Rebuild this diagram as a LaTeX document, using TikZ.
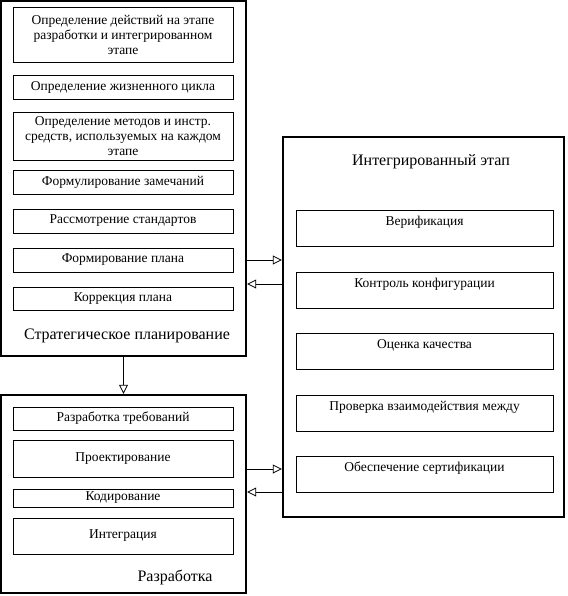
\documentclass[tikz,border=0pt]{standalone}
\usepackage{fontspec}
\setmainfont{Liberation Serif}
\usetikzlibrary{arrows.meta, positioning}
\tikzstyle{frame} = [rectangle, draw=black, line width=2.4pt]
\tikzstyle{task} = [rectangle, draw=black, line width=0.8pt, minimum width=220pt,
    inner sep=1.5pt, align=center, font=\fontsize{13.5}{15}\selectfont]
\tikzstyle{check} = [rectangle, draw=black, line width=0.8pt, minimum width=257pt,
    inner xsep=2pt, inner ysep=2pt, text height=13pt, text depth=19pt,
    font=\fontsize{13.5}{15}\selectfont]
\tikzstyle{title} = [font=\fontsize{16}{19}\selectfont]
\tikzstyle{arrow} = [line width=0.8pt,->,>={Triangle[open,length=9pt,width=9pt]}]

\begin{document}
\begin{tikzpicture}[x=1pt, y=-1pt]
\useasboundingbox (0,0) rectangle (567,596);

% Frames
\node (strat) [frame, minimum width=245pt, minimum height=355pt] at (123.5,178.5) {};
\node (dev) [frame, minimum width=245pt, minimum height=198pt] at (123.5,494) {};
\node (integ) [frame, minimum width=281pt, minimum height=380pt] at (423.5,327) {};

% Strategic planning
\node (plan1) [task, minimum height=55pt] at (123,34.5) {Определение действий на этапе\\ разработки и интегрированном\\ этапе};
\node (plan2) [task, minimum height=24pt] at (123,87) {Определение жизненного цикла};
\node (plan3) [task, minimum height=48pt] at (123,136) {Определение методов и инстр.\\ средств, используемых на каждом\\ этапе};
\node (plan4) [task, minimum height=24pt] at (123,182) {Формулирование замечаний};
\node (plan5) [task, minimum height=24pt] at (123,221) {Рассмотрение стандартов};
\node (plan6) [task, minimum height=24pt] at (123,260) {Формирование плана};
\node (plan7) [task, minimum height=23pt] at (123,298.5) {Коррекция плана};
\node (stratlbl) [title] at (127,336) {Стратегическое планирование};

% Development
\node (dev1) [task, minimum height=23pt] at (123,418.5) {Разработка требований};
\node (dev2) [task, minimum height=37pt] at (123,458.5) {Проектирование};
\node (dev3) [task, minimum height=18pt] at (123,498) {Кодирование};
\node (dev4) [task, minimum height=36pt] at (123,536) {Интеграция};
\node (devlbl) [title] at (175,577) {Разработка};

% Integrated stage
\node (integlbl) [title] at (431,162) {Интегрированный этап};
\node (int1) [check] at (424.5,228) {Верификация};
\node (int2) [check] at (424.5,290.5) {Контроль конфигурации};
\node (int3) [check] at (424.5,351.5) {Оценка качества};
\node (int4) [check] at (424.5,413) {Проверка взаимодействия между};
\node (int5) [check] at (424.5,474) {Обеспечение сертификации};

% Arrows
\draw [arrow] (strat) -- (dev);
\draw [arrow] (strat.east |- plan6) -- (integ.west |- plan6);
\draw [arrow] (integ.west |- 0,284) -- (strat.east |- 0,284);
\draw [arrow] (dev.east |- 0,469) -- (integ.west |- 0,469);
\draw [arrow] (integ.west |- 0,492) -- (dev.east |- 0,492);

\end{tikzpicture}
\end{document}
